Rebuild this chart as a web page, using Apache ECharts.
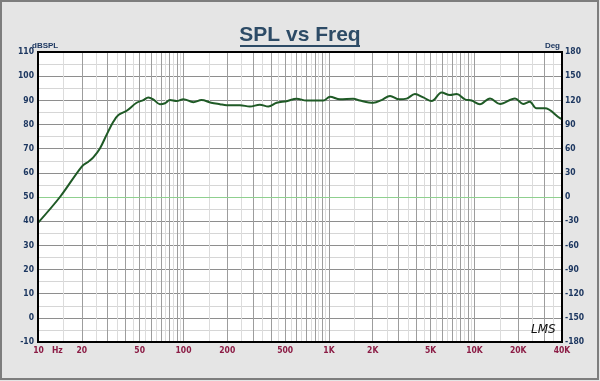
<!DOCTYPE html>
<html><head><meta charset="utf-8">
<script src="https://cdn.jsdelivr.net/npm/echarts@6/dist/echarts.min.js"></script>
<style>html,body{margin:0;padding:0;background:#e5e5e5}#c{width:600px;height:381px}</style>
</head><body><div id="c"></div>
<script>
// ---- data ----
const freqHz = [10, 14.2, 20, 22.2, 24, 26.7, 29.6, 33, 35.7, 40.7, 47.6, 53, 57.3, 62, 68.9, 74.6, 80.7, 89.7, 100, 117, 133, 155, 178, 198, 245, 286, 335, 383, 437, 511, 600, 700, 915, 1017, 1190, 1470, 1630, 2020, 2300, 2630, 3040, 3420, 3900, 4450, 5080, 5950, 6790, 7550, 8600, 9570, 10900, 12800, 15000, 19000, 21600, 24000, 26700, 30500, 38700, 40000];
const splDb = [39.3, 50.1, 62.6, 64.6, 66.4, 70.2, 75.7, 81.2, 83.9, 85.7, 89.0, 90.1, 91.2, 90.4, 88.4, 88.8, 90.1, 89.7, 90.5, 89.2, 90.1, 89.0, 88.4, 88.0, 88.0, 87.4, 88.2, 87.4, 89.0, 89.6, 90.7, 89.9, 89.9, 91.5, 90.4, 90.7, 89.9, 89.0, 90.1, 91.8, 90.4, 90.7, 92.6, 91.2, 89.7, 93.2, 92.2, 92.6, 90.4, 89.9, 88.4, 90.8, 88.5, 90.8, 88.5, 89.4, 86.7, 86.7, 82.6, 82.2];

const xLabelValues = [10, 20, 50, 100, 200, 500, 1000, 2000, 5000, 10000, 20000, 40000];
const xLabelTexts  = ['10', '20', '50', '100', '200', '500', '1K', '2K', '5K', '10K', '20K', '40K'];
const xMajorGrid = [20,30,40,50,60,70,80,90,100,200,300,400,500,600,700,800,900,1000,2000,3000,4000,5000,6000,7000,8000,9000,10000,20000,30000];
const xMinorGrid = [15,25,35,45,55,65,75,85,95,150,250,350,450,550,650,750,850,950,1500,2500,3500,4500,5500,6500,7500,8500,9500,15000,25000,35000];
const splRange = {min: -10, max: 110, interval: 10};
const degRange = {min: -180, max: 180, interval: 30};
const zeroRefDb = 50;

// ---- chart ----
const G = {l: 38, t: 52, r: 562, b: 342};
const labelFont = {fontFamily: '"Liberation Sans Narrow","DejaVu Sans Condensed","Liberation Sans",sans-serif', fontWeight: 'bold', fontSize: 8.5};
const chart = echarts.init(document.getElementById('c'), null, {renderer: 'canvas'});

chart.setOption({
  backgroundColor: '#e5e5e5',
  animation: false,
  title: {
    text: 'SPL vs Freq', left: 'center', top: 20,
    textStyle: {fontFamily: '"Liberation Sans",Arial,sans-serif', fontWeight: 'bold', fontSize: 21, color: '#2d4b66'}
  },
  grid: {left: G.l, top: G.t, width: G.r - G.l, height: G.b - G.t, show: true, backgroundColor: '#ffffff', borderWidth: 0},
  xAxis: [
    {
      type: 'log', logBase: 10, min: 10, max: 40000, position: 'bottom',
      axisLine: {show: false},
      axisTick: {show: false, customValues: xMajorGrid},
      splitLine: {show: true, lineStyle: {color: '#9d9d9d', width: 1}},
      axisLabel: Object.assign({
        customValues: xLabelValues, color: '#8b1c45', margin: 4,
        formatter: function (v) {
          const i = xLabelValues.findIndex(x => Math.abs(x - v) / x < 1e-6);
          if (i === 0) return '{hz|' + xLabelTexts[0] + '   Hz}';
          return i >= 0 ? xLabelTexts[i] : '';
        },
        rich: {hz: Object.assign({color: '#8b1c45', padding: [0, 0, 0, 20]}, labelFont)}
      }, labelFont)
    },
    {
      type: 'log', logBase: 10, min: 10, max: 40000, position: 'top',
      axisLine: {show: false}, axisLabel: {show: false},
      axisTick: {show: false, customValues: xMinorGrid},
      splitLine: {show: true, lineStyle: {color: '#dcdcdc', width: 1}}
    }
  ],
  yAxis: [
    {
      type: 'value', min: splRange.min, max: splRange.max, interval: splRange.interval, position: 'left',
      axisLine: {show: false}, axisTick: {show: false},
      splitLine: {show: true, lineStyle: {color: '#8e8e8e', width: 1}},
      minorTick: {show: false, splitNumber: 2},
      minorSplitLine: {show: true, lineStyle: {color: '#d6d6d6', width: 1}},
      axisLabel: Object.assign({color: '#1d3760', margin: 4}, labelFont)
    },
    {
      type: 'value', min: degRange.min, max: degRange.max, interval: degRange.interval, position: 'right',
      axisLine: {show: false}, axisTick: {show: false}, splitLine: {show: false},
      axisLabel: Object.assign({color: '#1d3760', margin: 3}, labelFont)
    }
  ],
  series: [{
    type: 'line', name: 'SPL', xAxisIndex: 0, yAxisIndex: 0,
    data: freqHz.map((f, i) => [f, splDb[i]]),
    showSymbol: false, smooth: 0.35,
    lineStyle: {color: '#1f5a26', width: 2}, z: 5,
    markLine: {
      silent: true, symbol: 'none', label: {show: false},
      lineStyle: {color: '#8fd08f', width: 1, type: 'solid'},
      data: [{yAxis: zeroRefDb}]
    }
  }],
  graphic: [
    {type: 'rect', z: 100, silent: true, shape: {x: G.l, y: G.t, width: G.r - G.l, height: G.b - G.t},
     style: {fill: null, stroke: '#000', lineWidth: 2}},
    {type: 'rect', z: 100, silent: true, shape: {x: 1, y: 1, width: 597, height: 378},
     style: {fill: null, stroke: '#7d7d7d', lineWidth: 2}},
    {type: 'line', z: 100, silent: true, shape: {x1: 240, y1: 46, x2: 360, y2: 46},
     style: {stroke: '#2d4b66', lineWidth: 2}},
    {type: 'text', z: 100, silent: true, x: 32, y: 46,
     style: {text: 'dBSPL', fill: '#1d3760', align: 'left', verticalAlign: 'middle', font: 'bold 8px "Liberation Sans Narrow","Liberation Sans",sans-serif'}},
    {type: 'text', z: 100, silent: true, x: 560, y: 46,
     style: {text: 'Deg', fill: '#1d3760', align: 'right', verticalAlign: 'middle', font: 'bold 8px "Liberation Sans Narrow","Liberation Sans",sans-serif'}},
    {type: 'text', z: 100, silent: true, x: 531, y: 324,
     style: {text: 'LMS', fill: '#111', align: 'left', verticalAlign: 'top', font: 'italic 12px "DejaVu Sans",sans-serif'}}
  ]
});
</script></body></html>
